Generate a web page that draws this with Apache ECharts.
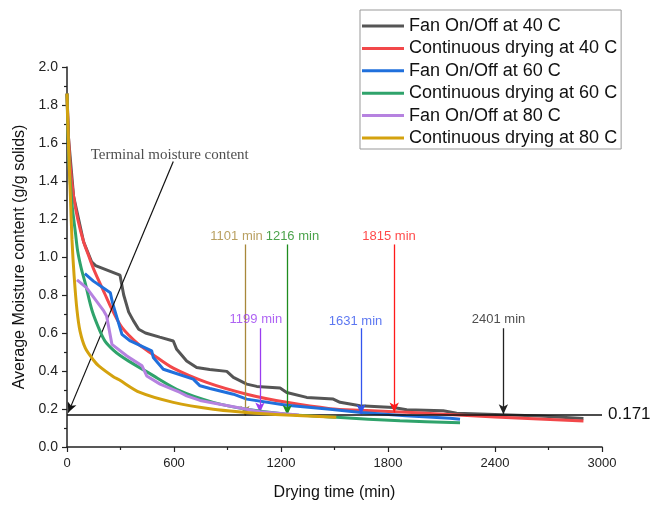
<!DOCTYPE html>
<html><head><meta charset="utf-8">
<script src="https://cdn.jsdelivr.net/npm/echarts@6/dist/echarts.min.js"></script>
<style>html,body{margin:0;padding:0;background:#fff}#c{width:653px;height:506px}</style>
</head><body><div id="c"></div>
<script>
// ---- data (time in min, moisture in g/g solids) ----
const seriesNames = [
  'Fan On/Off at 40 C', 'Continuous drying at 40 C',
  'Fan On/Off at 60 C', 'Continuous drying at 60 C',
  'Fan On/Off at 80 C', 'Continuous drying at 80 C'
];
const fan40 = [[0,1.86],[9,1.62],[37,1.32],[93,1.08],[138,0.975],[160,0.955],[297,0.905],[318,0.80],[346,0.71],[372,0.665],[402,0.62],[440,0.60],[520,0.578],[596,0.558],[615,0.514],[671,0.453],[727,0.418],[800,0.408],[896,0.398],[933,0.366],[1008,0.331],[1064,0.319],[1195,0.310],[1232,0.287],[1344,0.261],[1493,0.252],[1531,0.235],[1643,0.217],[1830,0.208],[1905,0.196],[2110,0.191],[2185,0.178],[2400,0.171],[2650,0.163],[2896,0.150]];
const cont40 = [[0,1.86],[9,1.62],[20,1.46],[37,1.32],[60,1.20],[93,1.08],[120,1.01],[150,0.935],[215,0.80],[252,0.725],[308,0.63],[402,0.54],[477,0.49],[596,0.415],[783,0.34],[1008,0.278],[1232,0.235],[1475,0.202],[1650,0.193],[1834,0.186],[2036,0.176],[2400,0.158],[2896,0.137]];
const fan60 = [[100,0.912],[148,0.873],[243,0.812],[255,0.76],[308,0.593],[355,0.558],[475,0.506],[484,0.471],[540,0.409],[596,0.392],[708,0.357],[746,0.322],[802,0.308],[933,0.278],[1008,0.252],[1232,0.220],[1475,0.199],[1649,0.182],[1900,0.165],[2148,0.151],[2204,0.146]];
const cont60 = [[0,1.86],[10,1.52],[20,1.37],[30,1.26],[47,1.13],[60,1.03],[80,0.94],[103,0.86],[140,0.72],[185,0.61],[215,0.555],[260,0.51],[300,0.48],[346,0.452],[458,0.39],[634,0.295],[820,0.235],[1008,0.199],[1232,0.173],[1512,0.156],[1867,0.138],[2204,0.127]];
const fan80 = [[56,0.88],[110,0.838],[206,0.716],[222,0.69],[252,0.54],[336,0.479],[421,0.427],[430,0.409],[447,0.374],[522,0.331],[634,0.287],[671,0.269],[746,0.245],[820,0.232],[1008,0.199],[1082,0.186],[1300,0.168]];
const cont80 = [[0,1.86],[8,1.60],[19,1.32],[28,1.09],[40,0.90],[56,0.72],[73,0.61],[103,0.52],[148,0.458],[178,0.427],[260,0.37],[290,0.355],[409,0.287],[596,0.235],[820,0.199],[1008,0.182],[1101,0.175],[1230,0.168],[1510,0.157]];
const terminalMoisture = 0.171;
const endTimeLabels = ['1101 min','1216 min','1815 min','1199 min','1631 min','2401 min'];

// ---- styling / annotation placement ----
const colors = ['#555555','#f2484a','#2070dc','#2fa36b','#b682e0','#d4a20e'];
const annot = [
  {t:998,  from:1.066, to:0.165, lt:951,  ly:1.109, color:'#a8883a'},
  {t:1235, from:1.066, to:0.168, lt:1264, ly:1.109, color:'#1e8c1e'},
  {t:1835, from:1.066, to:0.182, lt:1806, ly:1.108, color:'#ff1a1a'},
  {t:1082, from:0.625, to:0.182, lt:1059, ly:0.672, color:'#9a3cf0'},
  {t:1649, from:0.625, to:0.173, lt:1618, ly:0.663, color:'#3355ee'},
  {t:2447, from:0.625, to:0.173, lt:2420, ly:0.672, color:'#222222'}
];
const dataSets = [fan40, cont40, fan60, cont60, fan80, cont80];
const FONT = 'Liberation Sans, Arial, sans-serif';

const chart = echarts.init(document.getElementById('c'));
const series = dataSets.map((d, i) => ({
  name: seriesNames[i], type: 'line', data: d, showSymbol: false, symbol: 'none',
  smooth: i % 2 === 1 ? 0.3 : false,
  lineStyle: {width: 3, color: colors[i]}, itemStyle: {color: colors[i]},
  z: 2 + i
}));

function arrowPair(from, to, color, width) {
  const ls = {color: color, width: width, type: 'solid'};
  return [
    {coord: from, symbol: 'none', symbolSize: 0, lineStyle: ls},
    {coord: to, symbol: 'arrow', symbolSize: [7, 10], lineStyle: ls, itemStyle: {color: color}}
  ];
}
const mlData = annot.map(a => arrowPair([a.t, a.from], [a.t, a.to], a.color, 1.3));
mlData.push(arrowPair([596,1.503], [7,0.181], '#111', 1.2));
const hl = {color:'#111', width:1.5, type:'solid'};
const hlLabel = {show:true, position:'end', formatter:String(terminalMoisture), fontSize:17, color:'#111', fontFamily:FONT, distance:6};
mlData.push([
  {coord:[0,terminalMoisture], symbol:'none', lineStyle:hl, label:hlLabel},
  {coord:[3000,terminalMoisture], symbol:'none', lineStyle:hl, label:hlLabel}
]);

const labelData = annot.map((a, i) => ({
  value:[a.lt, a.ly],
  label:{show:true, position:'inside', formatter:endTimeLabels[i], color:a.color, fontSize:13, fontFamily:FONT}
}));
labelData.push({
  value:[576,1.538],
  label:{show:true, position:'inside', formatter:'Terminal moisture content', color:'#222', fontSize:15, fontFamily:'Liberation Serif, Times New Roman, serif'}
});

series.push({
  name:'annotations', type:'scatter', data: labelData, symbolSize: 0, z: 20,
  silent: true,
  markLine: {
    silent: true, symbol:['none','arrow'],
    lineStyle: {type: 'solid'},
    label:{show:false}, data: mlData, animation:false
  }
});

chart.setOption({
  animation: false,
  backgroundColor: '#fff',
  grid: {left: 67, right: 51, top: 67, bottom: 58},
  legend: {
    data: seriesNames, orient: 'vertical', left: 360, top: 10,
    icon: 'rect', itemWidth: 42, itemHeight: 3, itemGap: 4.4,
    padding: [7, 4, 2, 2], borderColor: '#999', borderWidth: 1,
    textStyle: {fontSize: 18, color: '#111', fontFamily: FONT}
  },
  xAxis: {
    type: 'value', min: 0, max: 3000, interval: 600,
    name: 'Drying time (min)', nameLocation: 'middle', nameGap: 38,
    nameTextStyle: {fontSize: 16, color: '#111', fontFamily: FONT},
    axisLine: {lineStyle: {color: '#222', width: 1.5}},
    axisTick: {show: true, inside: false, length: 5, lineStyle: {color: '#222', width: 1.2}},
    minorTick: {show: true, splitNumber: 2, length: 3, lineStyle: {color: '#222', width: 1.2}},
    axisLabel: {fontSize: 13, color: '#222', fontFamily: FONT, margin: 10, formatter: v => String(v)},
    splitLine: {show: false}
  },
  yAxis: {
    type: 'value', min: 0, max: 2.0, interval: 0.2,
    name: 'Average Moisture content (g/g solids)', nameLocation: 'middle', nameGap: 30,
    nameTextStyle: {fontSize: 16, color: '#111', fontFamily: FONT},
    axisLine: {show: true, lineStyle: {color: '#222', width: 1.5}},
    axisTick: {show: true, inside: false, length: 5, lineStyle: {color: '#222', width: 1.2}},
    minorTick: {show: true, splitNumber: 2, length: 3, lineStyle: {color: '#222', width: 1.2}},
    axisLabel: {fontSize: 14, color: '#222', fontFamily: FONT, margin: 9, formatter: v => v.toFixed(1)},
    splitLine: {show: false}
  },
  series: series
});
</script>
</body></html>
